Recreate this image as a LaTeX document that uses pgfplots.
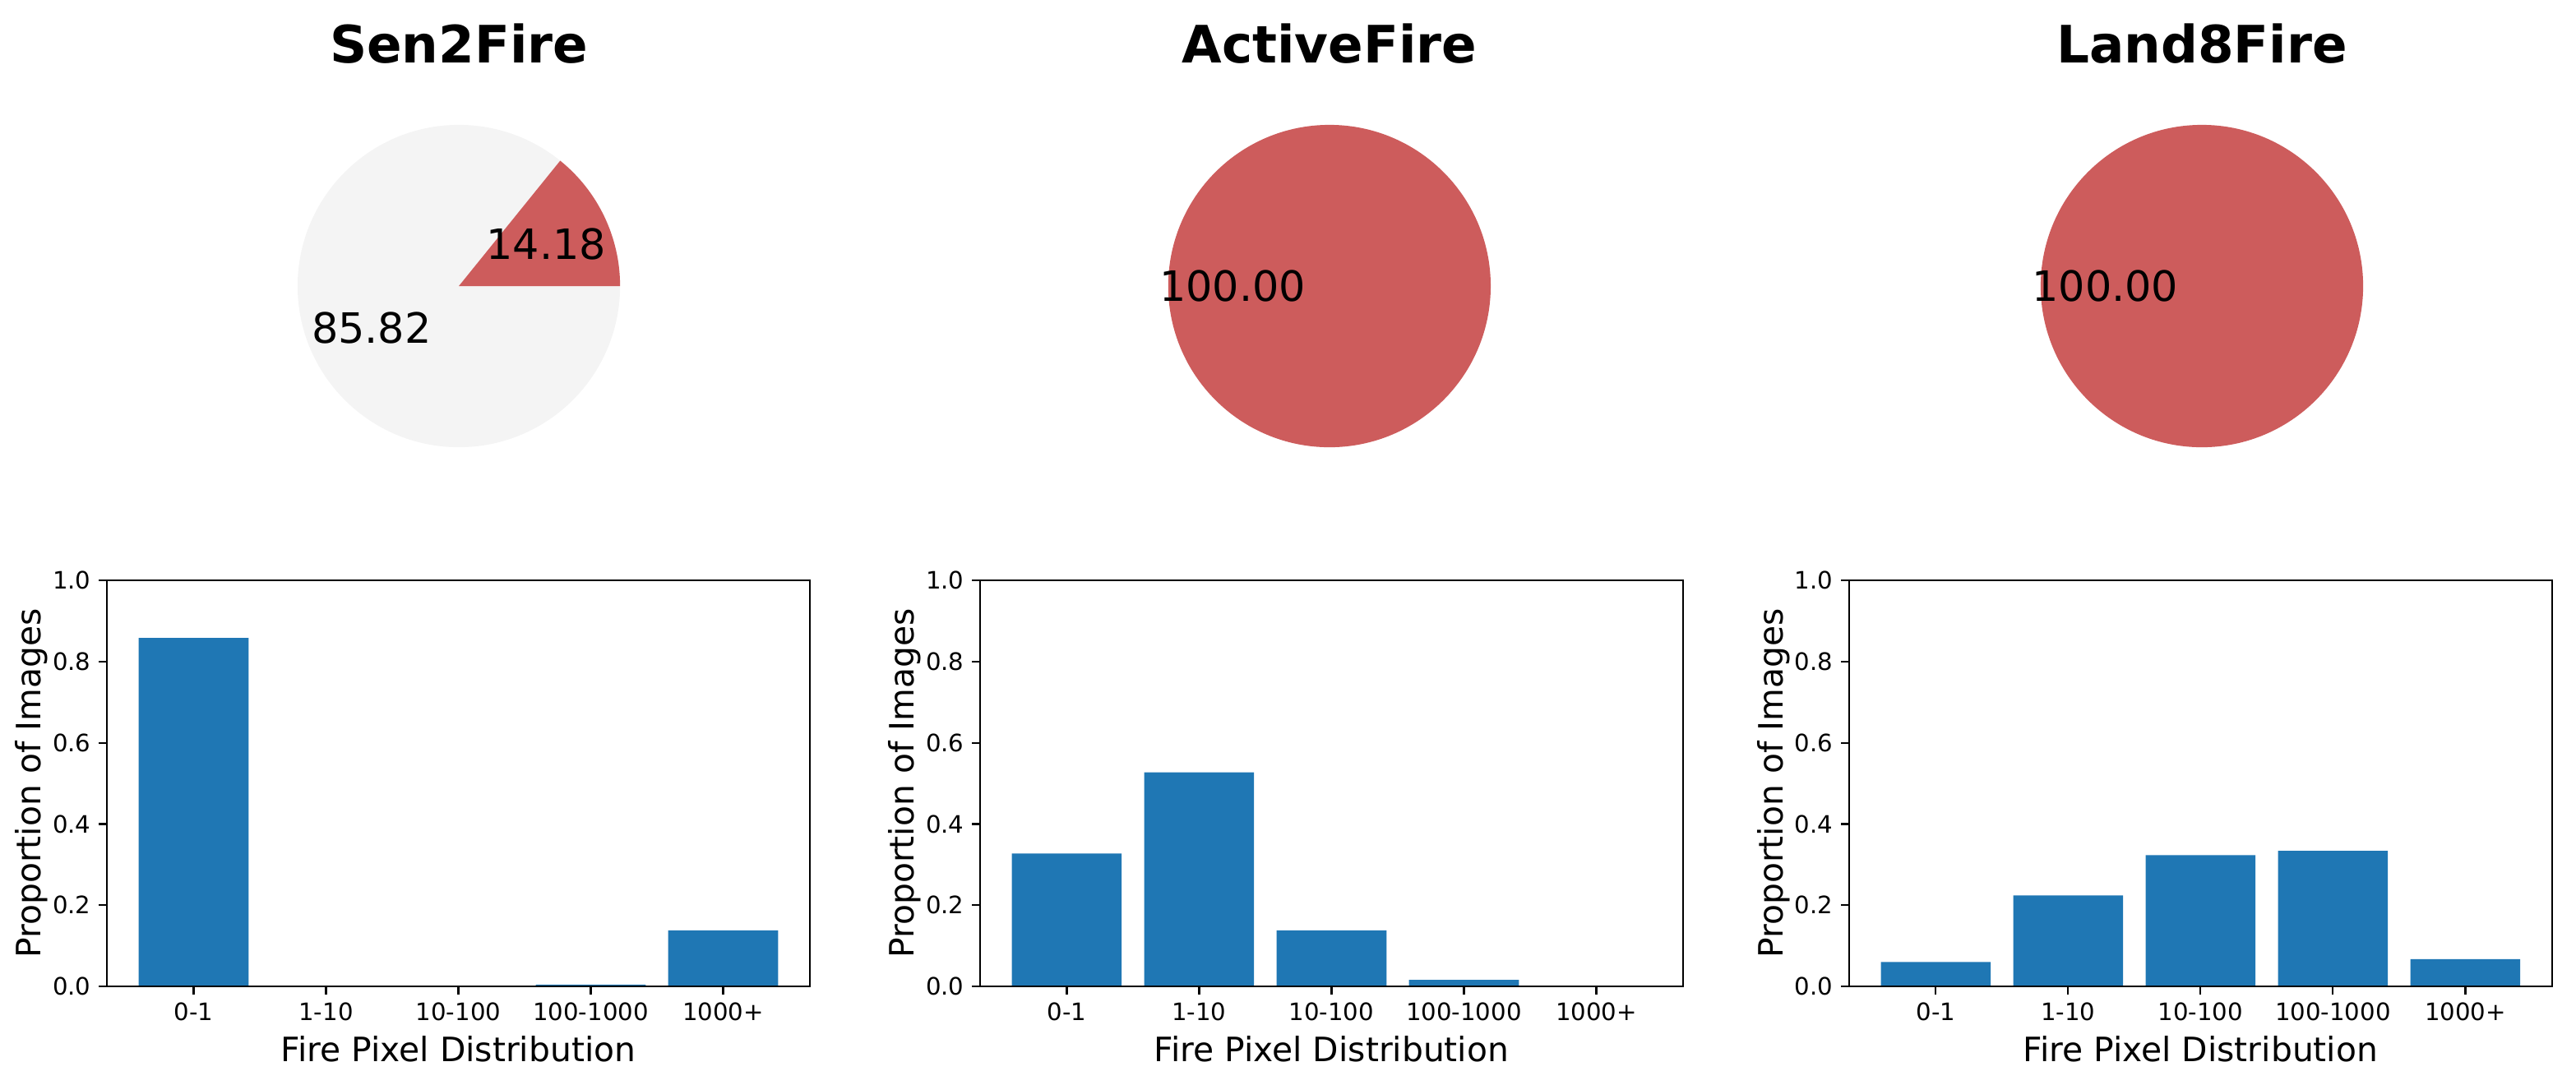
\documentclass[border=0pt]{standalone}
\usepackage{fontspec}
\setmainfont{DejaVu Sans}
\usepackage{pgfplots}
\pgfplotsset{compat=1.18}

\definecolor{barblue}{HTML}{1F77B4}
\definecolor{firered}{HTML}{CD5C5C}
\definecolor{piegray}{HTML}{F4F4F4}

% share of fire images (%), per dataset
\def\senfire{14.18}
\def\senclear{85.82}

\pgfplotsset{
  distplot/.style={
    scale only axis, width=307.8pt, height=177.8pt, anchor=south west,
    ybar, bar width=0.83, axis on top,
    xmin=-0.655, xmax=4.655, ymin=0, ymax=1,
    xtick={0,1,2,3,4}, xticklabels={0-1,1-10,10-100,100-1000,1000+},
    ytick={0,0.2,0.4,0.6,0.8,1.0},
    yticklabel style={/pgf/number format/fixed, /pgf/number format/fixed zerofill,
      /pgf/number format/precision=1, /pgf/number format/assume math mode=true},
    tick label style={font=\fontsize{10.5}{12}\selectfont},
    xlabel={Fire Pixel Distribution}, ylabel={Proportion of Images},
    every axis x label/.style={at={(axis description cs:0.5,-0.154)}, anchor=center,
      font=\fontsize{14.7}{17}\selectfont},
    every axis y label/.style={at={(axis description cs:-0.1076,0.5)}, rotate=90, anchor=center,
      font=\fontsize{14.7}{17}\selectfont},
    tick align=outside, major tick length=3.5pt,
    xtick pos=bottom, ytick pos=left,
    tick style={black, line width=0.8pt},
    axis line style={line width=0.8pt},
  },
  pieaxis/.style={
    hide axis, scale only axis, width=141.2pt, height=141.2pt, anchor=center,
    xmin=-1, xmax=1, ymin=-1, ymax=1, clip=false,
    title style={font=\fontsize{22.6}{26}\selectfont\bfseries, at={(0.5,1)}, anchor=base, yshift=21pt},
  },
}
\tikzset{pielabel/.style={font=\fontsize{18.3}{21}\selectfont, anchor=center}}

\begin{document}
\begin{tikzpicture}
\useasboundingbox (0,0) rectangle (1127.9pt,475.2pt);

% ---- pies ----
\begin{axis}[pieaxis, at={(200.9pt,349.9pt)}, title={Sen2Fire}]
  \fill[piegray] (axis cs:0,0) circle[radius=70.6pt];
  \fill[firered] (axis cs:0,0) -- (axis cs:1,0) arc[start angle=0, end angle={\senfire*3.6}, radius=70.6pt] -- cycle;
  \node[pielabel] at (axis cs:{0.6*cos(\senfire*1.8)},{0.6*sin(\senfire*1.8)}) {14.18};
  \node[pielabel] at (axis cs:{0.6*cos(\senfire*3.6+\senclear*1.8)},{0.6*sin(\senfire*3.6+\senclear*1.8)}) {85.82};
\end{axis}

\begin{axis}[pieaxis, at={(582.1pt,349.9pt)}, title={ActiveFire}]
  \fill[firered] (axis cs:0,0) circle[radius=70.6pt];
  \node[pielabel] at (axis cs:-0.6,0) {100.00};
\end{axis}

\begin{axis}[pieaxis, at={(964.1pt,349.9pt)}, title={Land8Fire}]
  \fill[firered] (axis cs:0,0) circle[radius=70.6pt];
  \node[pielabel] at (axis cs:-0.6,0) {100.00};
\end{axis}

% ---- fire pixel distributions ----
\begin{axis}[distplot, at={(46.8pt,43.2pt)}]
  \addplot[fill=barblue, draw=none] coordinates {(0,0.858) (1,0) (2,0) (3,0.004) (4,0.138)};
\end{axis}

\begin{axis}[distplot, at={(429.1pt,43.2pt)}]
  \addplot[fill=barblue, draw=none] coordinates {(0,0.327) (1,0.527) (2,0.138) (3,0.016) (4,0)};
\end{axis}

\begin{axis}[distplot, at={(809.6pt,43.2pt)}]
  \addplot[fill=barblue, draw=none] coordinates {(0,0.060) (1,0.224) (2,0.323) (3,0.334) (4,0.067)};
\end{axis}
\end{tikzpicture}
\end{document}
